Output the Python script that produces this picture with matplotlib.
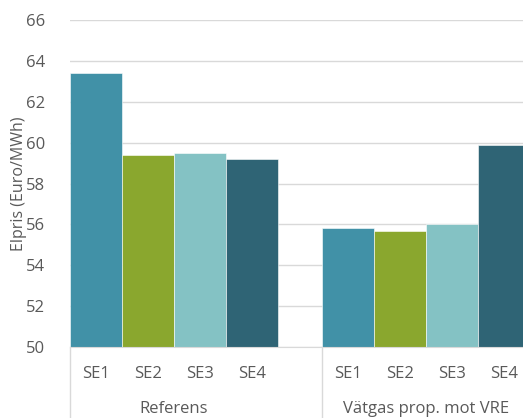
import matplotlib
matplotlib.use("Agg")
import matplotlib.pyplot as plt
import matplotlib.transforms as mtransforms

plt.rcParams['font.family'] = ['Open Sans', 'DejaVu Sans']

groups = ["Referens", "Vätgas prop. mot VRE"]
regions = ["SE1", "SE2", "SE3", "SE4"]
referens = [63.4, 59.4, 59.5, 59.2]
vatgas = [55.8, 55.7, 56.0, 59.9]
colors = ["#4191A7", "#8AA72E", "#84C2C4", "#2F6475"]
yticks = [50, 52, 54, 56, 58, 60, 62, 64, 66]

W, H = 523, 418
fig = plt.figure(figsize=(W / 100, H / 100), dpi=100)
ax = fig.add_axes([70 / W, (H - 347) / H, (W - 70) / W, 327 / H])

group_gap = 44 / 52
starts = [0.0, 4 + group_gap]
txt = "#595959"
line_c = "#D9D9D9"

trans = mtransforms.blended_transform_factory(ax.transData, ax.transAxes)
px = 1 / 327  # one pixel in axes fraction (vertical)

for g, (start, vals) in enumerate(zip(starts, [referens, vatgas])):
    xs = [start + i + 0.5 for i in range(len(regions))]
    ax.bar(xs, [v - 50 for v in vals], bottom=50, width=1.0, color=colors,
           edgecolor="white", linewidth=0.4, zorder=3)
    for x, r in zip(xs, regions):
        ax.text(x, -27 * px, r, transform=trans, ha="center", va="center",
                fontsize=12, color=txt, clip_on=False)
    ax.text(start + 2, -62 * px, groups[g], transform=trans, ha="center",
            va="center", fontsize=12, color=txt, clip_on=False)
    ax.plot([start, start], [0, -80 * px], transform=trans, color=line_c,
            linewidth=1, clip_on=False, zorder=1)

ax.set_xlim(0, (W - 70) / 52)
ax.set_ylim(50, 66)
ax.set_yticks(yticks)
ax.set_yticklabels([str(t) for t in yticks])
ax.tick_params(axis="y", length=0, pad=18, labelsize=12, labelcolor=txt)
ax.tick_params(axis="x", bottom=False, labelbottom=False)
ax.grid(axis="y", color=line_c, linewidth=1, zorder=0)
for s in ["top", "right", "left"]:
    ax.spines[s].set_visible(False)
ax.spines["bottom"].set_color(line_c)
ax.spines["bottom"].set_zorder(4)
ax.set_ylabel("Elpris (Euro/MWh)", fontsize=11.5, color=txt)
ax.yaxis.set_label_coords(-43 / 453, 0.5)

fig.savefig("out.png", dpi=100)
